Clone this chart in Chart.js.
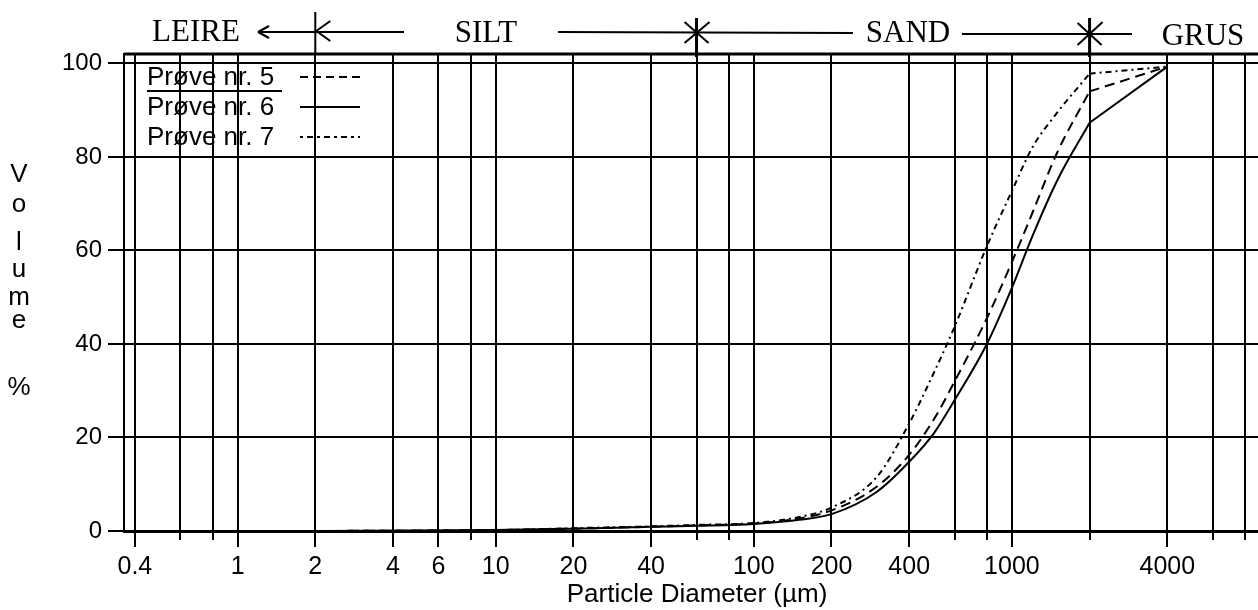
<!DOCTYPE html>
<html>
<head>
<meta charset="utf-8">
<script src="https://cdn.jsdelivr.net/npm/chart.js@4.4.1/dist/chart.umd.min.js"></script>
<style>
  html, body { margin: 0; padding: 0; background: #fff; overflow: hidden; }
  #wrap { width: 1280px; height: 610px; }
</style>
</head>
<body>
<div id="wrap"><canvas id="c" width="1280" height="610"></canvas></div>
<script>
// ---- Data ----
const sizes   = [2, 10, 20, 40, 60, 100, 150, 200, 300, 400, 500, 600, 800, 1000, 1200, 1500, 2000, 4000];
const sample5 = [0, 0.2, 0.5, 0.9, 1.2, 1.6, 2.7, 4.4, 9.5, 16.3, 24, 32, 45.5, 57.5, 68, 81, 94, 99.3];
const sample6 = [0, 0.2, 0.5, 0.9, 1.1, 1.5, 2.4, 3.6, 8.4, 14.8, 21, 28, 40, 52, 63, 75, 87.3, 99.3];
const sample7 = [0, 0.2, 0.6, 1.0, 1.3, 1.7, 3.0, 5.0, 11.6, 23, 34, 43.7, 60.9, 72.7, 82, 89.5, 97.8, 99.3];
const kinkSize = 2000; // curves are smooth up to this sieve size, straight after

const seriesNames = ['Prøve nr. 5', 'Prøve nr. 6', 'Prøve nr. 7'];
const gridValues  = [0.4, 0.6, 0.8, 1, 2, 4, 6, 8, 10, 20, 40, 60, 80, 100, 200, 400, 600, 800, 1000, 2000, 4000, 6000, 8000];
const tickLabels  = [0.4, 1, 2, 4, 6, 10, 20, 40, 100, 200, 400, 1000, 4000];
const yTicks      = [0, 20, 40, 60, 80, 100];
const fractionBounds = [2, 60, 2000];
const fractionNames  = ['LEIRE', 'SILT', 'SAND', 'GRUS'];
const yTitleLetters  = ['V', 'o', 'l', 'u', 'm', 'e', '%'];

// ---- Styles ----
const dashes = [[10, 6], [], [6, 4, 2, 4]];
const legendDashes = [[8, 5], [], [3, 4, 6, 4]];
const seriesValues = [sample5, sample6, sample7];

function pts(vals, fromKink) {
  const out = [];
  sizes.forEach((s, i) => {
    if (fromKink ? s >= kinkSize : s <= kinkSize) out.push({ x: s, y: vals[i] });
  });
  return out;
}

const datasets = [];
seriesValues.forEach((vals, k) => {
  datasets.push({
    label: seriesNames[k], data: pts(vals, false),
    borderColor: '#000', borderWidth: 2, borderDash: dashes[k],
    pointRadius: 0, cubicInterpolationMode: 'monotone', fill: false
  });
  datasets.push({
    label: seriesNames[k] + ' tail', data: pts(vals, true),
    borderColor: '#000', borderWidth: 2, borderDash: dashes[k],
    pointRadius: 0, tension: 0, fill: false
  });
});

const decor = {
  id: 'decor',
  afterDraw(chart) {
    const ctx = chart.ctx;
    const xs = chart.scales.x;
    const ca = chart.chartArea;
    ctx.save();
    ctx.strokeStyle = '#000';
    ctx.fillStyle = '#000';
    // top frame
    ctx.lineWidth = 3;
    ctx.beginPath(); ctx.moveTo(ca.left, ca.top); ctx.lineTo(ca.right, ca.top); ctx.stroke();
    // x tick marks under axis
    ctx.lineWidth = 2;
    gridValues.forEach(v => {
      const px = Math.round(xs.getPixelForValue(v));
      const len = tickLabels.includes(v) ? 16 : 9;
      ctx.beginPath(); ctx.moveTo(px, ca.bottom); ctx.lineTo(px, ca.bottom + len); ctx.stroke();
    });
    // header: fraction names
    ctx.font = '31px "Liberation Serif"';
    ctx.textAlign = 'center';
    ctx.textBaseline = 'alphabetic';
    const namePos = [[196, 41], [486, 42], [908, 42], [1203, 45]];
    fractionNames.forEach((n, i) => ctx.fillText(n, namePos[i][0], namePos[i][1]));
    const b0 = xs.getPixelForValue(fractionBounds[0]);
    const b1 = xs.getPixelForValue(fractionBounds[1]);
    const b2 = xs.getPixelForValue(fractionBounds[2]);
    ctx.lineWidth = 2;
    const seg = (x1, y1, x2, y2) => { ctx.beginPath(); ctx.moveTo(x1, y1); ctx.lineTo(x2, y2); ctx.stroke(); };
    // LEIRE arrow
    seg(258, 32, 404, 32);
    seg(258, 32, 269, 26); seg(258, 32, 269, 38);
    // boundary 1: vertical + "<"
    seg(b0, 12, b0, ca.top);
    seg(b0 + 1, 31, b0 + 15, 21); seg(b0 + 1, 31, b0 + 15, 41);
    // SILT -> SAND line
    seg(558, 32, 853, 33);
    ctx.lineWidth = 3;
    seg(b1, 18, b1, ca.top + 3);
    ctx.lineWidth = 2;
    seg(b1 - 12, 22, b1 + 12, 43); seg(b1 - 12, 43, b1 + 13, 22);
    // SAND -> GRUS line
    seg(962, 34, 1132, 34);
    ctx.lineWidth = 3;
    seg(b2, 18, b2, ca.top + 3);
    ctx.lineWidth = 2;
    seg(b2 - 12, 23, b2 + 12, 45); seg(b2 - 12, 45, b2 + 13, 22);

    // Y title letters
    ctx.font = '26px "Liberation Sans"';
    ctx.textAlign = 'center';
    const ly = [182, 212, 250, 277, 305, 328, 395];
    yTitleLetters.forEach((L, i) => ctx.fillText(L, 19, ly[i]));

    // Legend
    ctx.font = '26px "Liberation Sans"';
    ctx.textAlign = 'left';
    const base = [85, 115, 145];
    const lineY = [77, 107, 137];
    seriesNames.forEach((n, i) => {
      ctx.fillText(n, 147, base[i]);
      ctx.setLineDash(legendDashes[i]);
      ctx.lineWidth = 2;
      seg(300, lineY[i], 360, lineY[i]);
      ctx.setLineDash([]);
    });
    ctx.lineWidth = 2;
    seg(147, 91, 282, 91);
    ctx.restore();
  }
};

new Chart(document.getElementById('c'), {
  type: 'line',
  data: { datasets },
  plugins: [decor],
  options: {
    responsive: false,
    animation: false,
    layout: { padding: { top: 54, right: 10, left: 0, bottom: 0 } },
    plugins: { legend: { display: false }, tooltip: { enabled: false } },
    scales: {
      x: {
        type: 'logarithmic', min: 0.363, max: 10000,
        afterBuildTicks: s => { s.ticks = gridValues.map(v => ({ value: v })); },
        afterFit: s => { s.height = 79; },
        ticks: {
          autoSkip: false, maxRotation: 0, minRotation: 0, padding: 21,
          color: '#000', font: { family: 'Liberation Sans', size: 25 },
          callback: v => tickLabels.includes(v) ? String(v) : ''
        },
        grid: { color: '#000', lineWidth: 2, drawTicks: false },
        border: { color: '#000', width: 3 },
        title: {
          display: true, text: 'Particle Diameter (µm)', color: '#000',
          font: { family: 'Liberation Sans', size: 26 }, padding: { top: 0, bottom: 0 }
        }
      },
      y: {
        min: 0, max: 102,
        afterBuildTicks: s => { s.ticks = yTicks.map(v => ({ value: v })); },
        afterFit: s => { s.width = 124; },
        ticks: { color: '#000', font: { family: 'Liberation Sans', size: 24 }, padding: 6 },
        grid: { color: '#000', lineWidth: 2, tickLength: 16 },
        border: { color: '#000', width: 2 }
      }
    }
  }
});
</script>
</body>
</html>
